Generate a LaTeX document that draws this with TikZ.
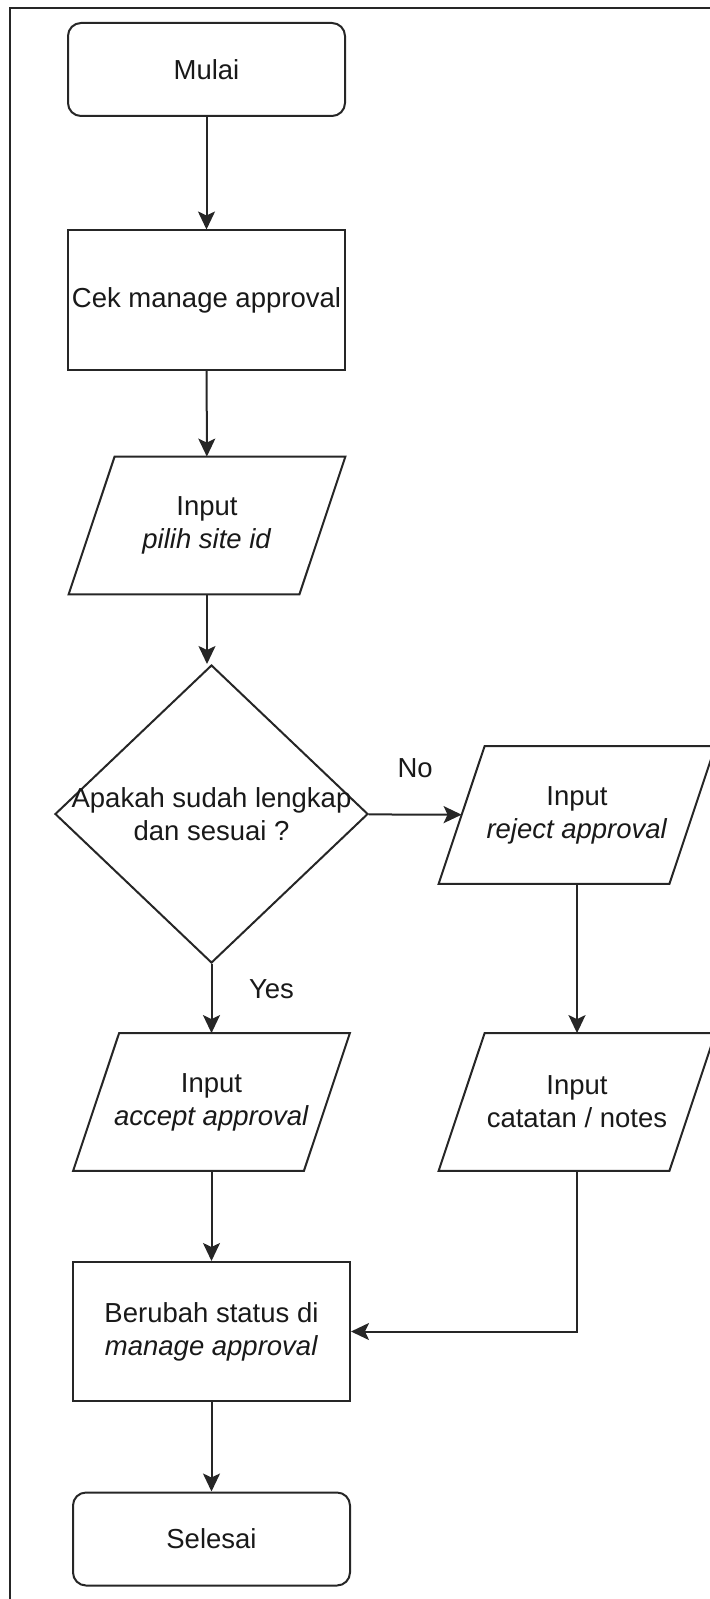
\documentclass[tikz,border=0pt]{standalone}
\usepackage{fontspec}
\setmainfont{Liberation Sans}
\usetikzlibrary{shapes.geometric,arrows.meta}

\begin{document}
\begin{tikzpicture}[x=0.5pt, y=-0.5pt,
  every node/.style={font=\fontsize{13.75}{16.5}\selectfont, text=black!90, align=center},
  terminal/.style={draw=black!85, line width=1pt, rounded corners=6.5pt, inner sep=0pt, minimum width=138.5pt, minimum height=46.5pt},
  process/.style={draw=black!85, line width=1pt, inner sep=0pt, minimum width=138.5pt, minimum height=69.5pt},
  io/.style={inner sep=0pt, minimum width=115pt, minimum height=68.5pt,
    append after command={\pgfextra{\draw[draw=black!85, line width=1pt]
      ([xshift=11.5pt]\tikzlastnode.north west) -- ([xshift=11.5pt]\tikzlastnode.north east)
      -- ([xshift=-11.5pt]\tikzlastnode.south east) -- ([xshift=-11.5pt]\tikzlastnode.south west) -- cycle;}}},
  decision/.style={draw=black!85, line width=1pt, diamond, inner xsep=-30pt, inner ysep=0pt, minimum width=156.5pt, minimum height=149pt},
  arrow/.style={draw=black!85, line width=1pt, -{Stealth[length=9pt, width=8.5pt, inset=2pt]}}]
\useasboundingbox (0,0) rectangle (710,1599);
\draw[line width=1.2pt, black!85] (10,1599) -- (10,8) -- (710,8);
\node[terminal] (mulai) at (206.5,69.5) {Mulai};
\node[process] (cek) at (206.5,300) {Cek manage approval};
\node[io] (pilih) at (207,525.5) {Input\\\textit{pilih site id}};
\node[decision] (periksa) at (211.5,814) {Apakah sudah lengkap\\dan sesuai ?};
\node[io] (reject) at (577,815) {Input\\\textit{reject approval}};
\node[io] (accept) at (211.5,1102) {Input\\\textit{accept approval}};
\node[io] (catatan) at (577,1102) {Input\\catatan / notes};
\node[process] (ubah) at (211.5,1331.5) {Berubah status di\\\textit{manage approval}};
\node[terminal] (selesai) at (211.5,1539) {Selesai};
\draw[arrow] (mulai) -- (cek);
\draw[arrow] (cek) -- (pilih);
\draw[arrow] (pilih.south) -- (pilih.south |- periksa.north);
\draw[arrow] (periksa) -- node[yshift=23pt] {No} (reject);
\draw[arrow] (periksa) -- node[pos=0.36, xshift=30pt] {Yes} (accept);
\draw[arrow] (reject) -- (catatan);
\draw[arrow] (accept) -- (ubah);
\draw[arrow] (catatan) |- (ubah);
\draw[arrow] (ubah) -- (selesai);
\end{tikzpicture}
\end{document}
